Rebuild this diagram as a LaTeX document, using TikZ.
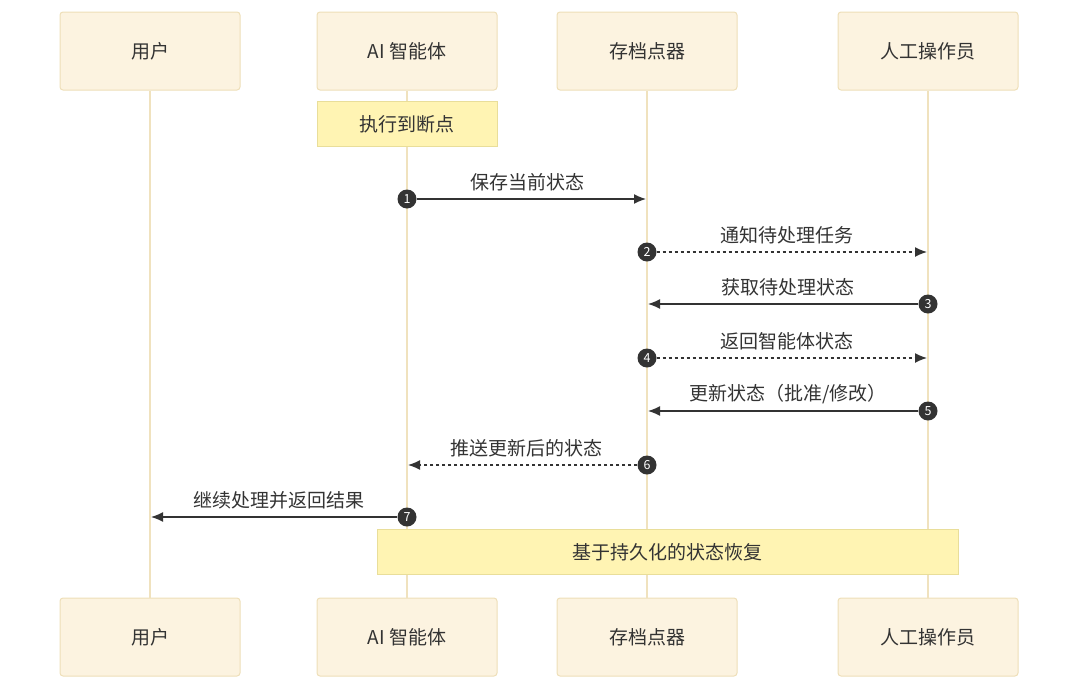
\documentclass[tikz,border=0pt]{standalone}
\usepackage{fontspec}
\usetikzlibrary{arrows.meta,positioning}
\newfontfamily\cjk{Noto Sans CJK SC}
\definecolor{actorfill}{HTML}{FCF3E0}
\definecolor{actorline}{HTML}{EEDFB8}
\definecolor{notefill}{HTML}{FFF4B3}
\definecolor{noteline}{HTML}{E9DE9A}
\definecolor{lifeline}{HTML}{F0E2BE}
\definecolor{ink}{HTML}{333333}

\begin{document}
\begin{tikzpicture}[
  x=1pt,y=-1pt,
  font=\cjk\fontsize{19}{22}\selectfont,
  text=ink,
  actor/.style={rectangle,rounded corners=3pt,draw=actorline,fill=actorfill,line width=1pt,minimum width=180pt,minimum height=78pt},
  note/.style={rectangle,draw=noteline,fill=notefill,line width=1pt,minimum height=45pt},
  life/.style={draw=lifeline,line width=2pt},
  num/.style={circle,fill=ink,inner sep=0pt,minimum size=19pt,text=white,font=\cjk\fontsize{12.5}{13}\selectfont},
  msg/.style={-{Latex[length=12pt,width=10pt]},draw=ink,line width=1.4pt,shorten >=1pt},
  reply/.style={msg,dash pattern=on 3pt off 3pt},
  lbl/.style={pos=0.48,above=3.5pt},
]
\useasboundingbox (0,0) rectangle (1080,691);

% actors
\node[actor] (u1) at (150,51) {用户};
\node[actor] (a1) at (407,51) {AI 智能体};
\node[actor] (c1) at (647,51) {存档点器};
\node[actor] (h1) at (928,51) {人工操作员};

\node[actor] (u2) at (150,637) {用户};
\node[actor] (a2) at (407,637) {AI 智能体};
\node[actor] (c2) at (647,637) {存档点器};
\node[actor] (h2) at (928,637) {人工操作员};

% lifelines
\draw[life] (u1) -- (u2);
\draw[life] (a1) -- (a2);
\draw[life] (c1) -- (c2);
\draw[life] (h1) -- (h2);

% notes
\node[note,minimum width=180pt] (brk) at (407,124) {执行到断点};
\node[note,minimum width=581pt] (rec) at (667.5,552) {基于持久化的状态恢复};

% messages
\node[num] (n1) at (407,199) {1};
\node[num] (n2) at (647,252) {2};
\node[num] (n3) at (928,304) {3};
\node[num] (n4) at (647,358) {4};
\node[num] (n5) at (928,411) {5};
\node[num] (n6) at (647,465) {6};
\node[num] (n7) at (407,517) {7};

\draw[msg] (n1) -- (n1 -| c1) node[lbl] {保存当前状态};
\draw[reply] (n2) -- (n2 -| h1) node[lbl] {通知待处理任务};
\draw[msg] (n3) -- (n3 -| c1) node[lbl] {获取待处理状态};
\draw[reply] (n4) -- (n4 -| h1) node[lbl] {返回智能体状态};
\draw[msg] (n5) -- (n5 -| c1) node[lbl] {更新状态（批准/修改）};
\draw[reply] (n6) -- (n6 -| a1) node[lbl] {推送更新后的状态};
\draw[msg] (n7) -- (n7 -| u1) node[lbl] {继续处理并返回结果};

\end{tikzpicture}
\end{document}
